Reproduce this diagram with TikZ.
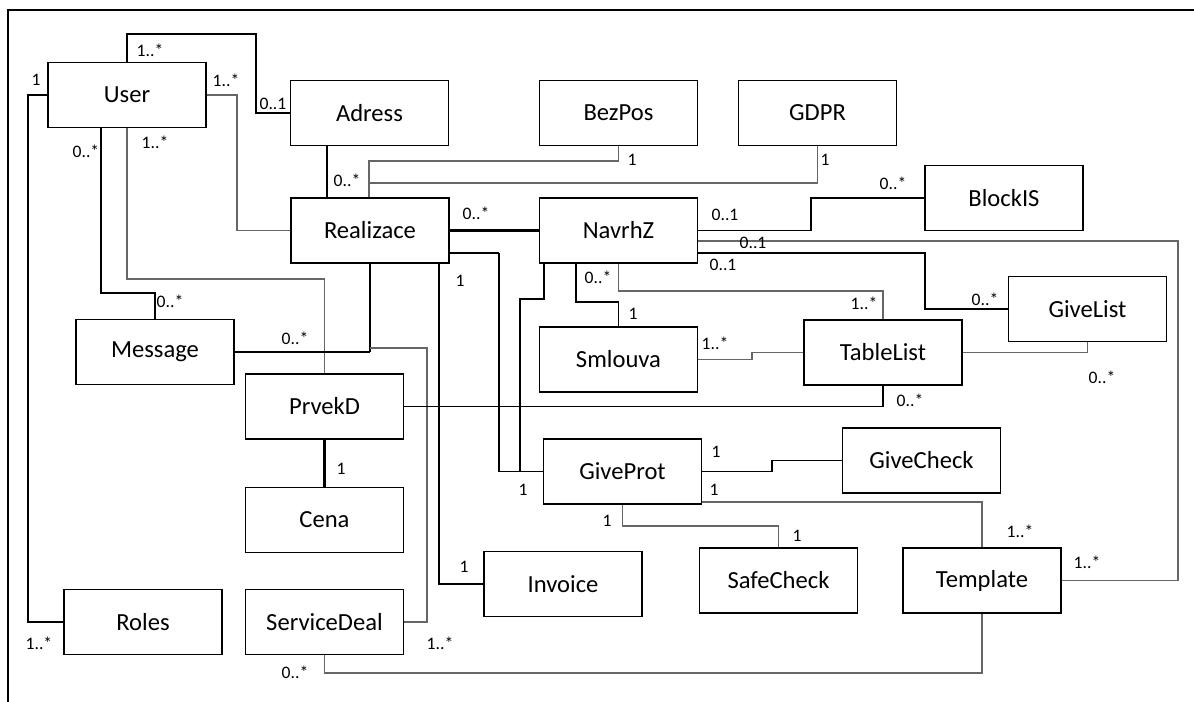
\documentclass[tikz,border=0pt]{standalone}
\usepackage{fontspec}
\setmainfont{Carlito}

\begin{document}
\begin{tikzpicture}[
    x=0.02cm, y=-0.02cm,
    cls/.style={
        draw,
        line width=1.1pt,
        minimum width=3.16cm,
        minimum height=1.3cm,
        inner sep=0pt,
        font=\fontsize{14}{16}\selectfont
    },
    mult/.style={
        inner sep=0pt,
        font=\fontsize{10}{12}\selectfont
    },
    link/.style={line width=0.85pt},
    linkgray/.style={line width=0.85pt, black!60},
    linkbold/.style={line width=1.7pt}
]
\useasboundingbox (0,0) rectangle (1194,702);

% Ramecek
\draw[
    line width=1.1pt
] (8,702) -- (8,10) -- (1194,10);

% Tridy
\node[cls] (User)        at (127,95)     {User};
\node[cls] (Adress)      at (369.5,113)  {Adress};
\node[cls] (BezPos)      at (618.5,113)  {BezPos};
\node[cls] (GDPR)        at (817.5,113)  {GDPR};
\node[cls] (BlockIS)     at (1004,198)   {BlockIS};
\node[cls] (Realizace)   at (370,230.5)  {Realizace};
\node[cls] (NavrhZ)      at (618.5,230.5){NavrhZ};
\node[cls] (GiveList)    at (1087.5,309) {GiveList};
\node[cls] (Message)     at (155,352)    {Message};
\node[cls] (Smlouva)     at (618.5,359.5){Smlouva};
\node[cls] (TableList)   at (883,352.5)  {TableList};
\node[cls] (PrvekD)      at (324.5,406.5){PrvekD};
\node[cls] (GiveProt)    at (622.5,471.5){GiveProt};
\node[cls] (GiveCheck)   at (921.5,460.5){GiveCheck};
\node[cls] (Cena)        at (324.5,520)  {Cena};
\node[cls] (Invoice)     at (563,584)    {Invoice};
\node[cls] (SafeCheck)   at (778.5,580.5){SafeCheck};
\node[cls] (Template)    at (982,580.5)  {Template};
\node[cls] (Roles)       at (143,622)    {Roles};
\node[cls] (ServiceDeal) at (324.5,622)  {ServiceDeal};

% Vazby od User
\draw[link] (User.north) |- (256,34) |- (Adress.west);
\draw[link] (User.west) -- (User.west -| 28,0) |- (Roles.west);
\draw[linkgray] (User.east) -- (User.east -| 237,0) |- (Realizace.west);
\draw[link] (User.south -| 101,0) |- (Message.north |- 0,293) -- (Message.north);
\draw[linkgray] (User.south) |- (PrvekD.north |- 0,279) -- (PrvekD.north);

% Vazby od Realizace
\draw[linkbold] (Adress.south -| 327,0) -- (Realizace.north -| 327,0);
\draw[linkgray] (Realizace.north -| 369,0) |- (BezPos.south |- 0,161) -- (BezPos.south);
\draw[linkgray] (Realizace.north -| 369,0) |- (GDPR.south |- 0,183) -- (GDPR.south);
\draw[linkbold] (Realizace.east) -- (NavrhZ.west);
\coordinate (kM) at (Message.east -| Realizace.south);
\draw[link] (Message.east) -- (kM);
\draw[linkbold] (kM) -- (Realizace.south);
\draw[linkgray] (Realizace.south |- 0,348) -| (ServiceDeal.east -| 427,0) -- (ServiceDeal.east);
\draw[link] (Realizace.south -| 439,0) |- (Invoice.west);
\coordinate (kR) at (499,253);
\draw[linkbold] (Realizace.east |- kR) -- (kR);
\draw[link] (kR) |- (GiveProt.west);

% Vazby od NavrhZ
\draw[link] (NavrhZ.south -| 544,0) |- (520,299) |- (GiveProt.west);
\draw[linkgray] (NavrhZ.south) |- (TableList.north |- 0,291) -- (TableList.north);
\draw[link] (NavrhZ.south -| 576,0) |- (Smlouva.north |- 0,302) -- (Smlouva.north);
\draw[link] (NavrhZ.east) -| (BlockIS.west -| 811,0) -- (BlockIS.west);
\draw[linkgray] (NavrhZ.east |- 0,241) -| (Template.east -| 1178,0) -- (Template.east);
\draw[link] (NavrhZ.east |- 0,253) -| (GiveList.west -| 925,0) -- (GiveList.west);

% Ostatni vazby
\draw[linkgray] (Smlouva.east) -| (TableList.west -| 752,0) -- (TableList.west);
\draw[linkgray] (TableList.east) -| (GiveList.south);
\draw[link] (PrvekD.east) -| (TableList.south);
\draw[linkbold] (PrvekD.south) -- (Cena.north);
\draw[link] (GiveProt.east) -| (GiveCheck.west -| 772,0) -- (GiveCheck.west);
\draw[linkgray] (GiveProt.east |- 0,502) -| (Template.north);
\draw[linkgray] (GiveProt.south) |- (SafeCheck.north |- 0,526) -- (SafeCheck.north);
\draw[linkgray] (ServiceDeal.south) |- (Template.south |- 0,673) -- (Template.south);

% Nasobnosti
\node[mult] (m1)  at (150,50)   {1..*};
\node[mult] (m2)  at (273,104)  {0..1};
\node[mult] (m3)  at (36,80)    {1};
\node[mult] (m4)  at (226,80)   {1..*};
\node[mult] (m5)  at (86,151)   {0..*};
\node[mult] (m6)  at (155,142)  {1..*};
\node[mult] (m7)  at (170,301)  {0..*};
\node[mult] (m8)  at (39,643)   {1..*};
\node[mult] (m9)  at (295,338)  {0..*};
\node[mult] (m10) at (347,180)  {0..*};
\node[mult] (m11) at (632,160)  {1};
\node[mult] (m12) at (825,160)  {1};
\node[mult] (m13) at (476,213)  {0..*};
\node[mult] (m14) at (460,281)  {1};
\node[mult] (m15) at (725,215)  {0..1};
\node[mult] (m16) at (893,183)  {0..*};
\node[mult] (m17) at (753,243)  {0..1};
\node[mult] (m18) at (723,265)  {0..1};
\node[mult] (m19) at (598,277)  {0..*};
\node[mult] (m20) at (864,303)  {1..*};
\node[mult] (m21) at (633,314)  {1};
\node[mult] (m22) at (715,343)  {1..*};
\node[mult] (m23) at (985,299)  {0..*};
\node[mult] (m24) at (1102,377) {0..*};
\node[mult] (m25) at (910,400)  {0..*};
\node[mult] (m26) at (716,452)  {1};
\node[mult] (m27) at (714,490)  {1};
\node[mult] (m28) at (523,490)  {1};
\node[mult] (m29) at (607,521)  {1};
\node[mult] (m30) at (797,536)  {1};
\node[mult] (m31) at (1020,531) {1..*};
\node[mult] (m32) at (1087,562) {1..*};
\node[mult] (m33) at (341,469)  {1};
\node[mult] (m34) at (464,567)  {1};
\node[mult] (m35) at (440,643)  {1..*};
\node[mult] (m36) at (295,672)  {0..*};

\end{tikzpicture}
\end{document}
